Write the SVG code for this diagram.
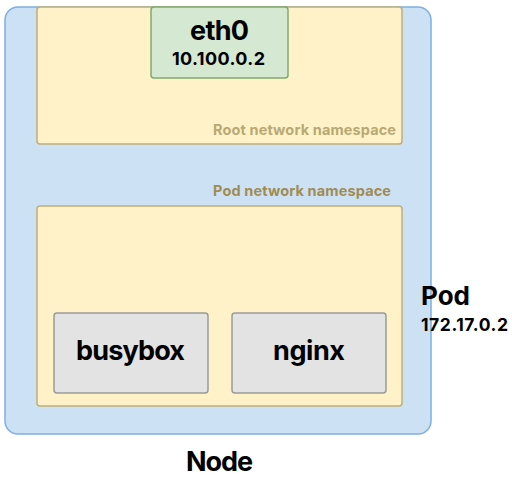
<svg xmlns="http://www.w3.org/2000/svg" width="512" height="477" viewBox="0 0 512 477">
<style>
text{font-family:Inter,"Liberation Sans",sans-serif;font-weight:700;fill:#000}
.ns{fill:#fff2c8;stroke:#bfae7a;stroke-width:1.5}
.box{fill:#e3e3e3;stroke:#9a9a9a;stroke-width:1.5}
.big{font-size:27px;text-anchor:middle}
.lbl{font-size:14.5px}
</style>
<rect width="512" height="477" fill="#fff"/>
<g id="node">
<rect x="5" y="7" width="426" height="427" rx="13" fill="#cde1f5" stroke="#7eaee2" stroke-width="1.5"/>
<text class="big" x="219.5" y="471" textLength="67">Node</text>
</g>
<g id="root-ns">
<rect class="ns" x="37" y="7" width="365" height="137" rx="3"/>
<text class="lbl" x="213" y="135" textLength="183" style="fill:#b8a972">Root network namespace</text>
</g>
<g id="eth0">
<rect x="151" y="7" width="137" height="71" rx="3" fill="#d5e8d2" stroke="#7faa6c" stroke-width="1.5"/>
<text class="big" x="219.5" y="40" textLength="59">eth0</text>
<text x="218.5" y="65" font-size="18" text-anchor="middle" textLength="93">10.100.0.2</text>
</g>
<g id="pod-ns">
<text class="lbl" x="213" y="196" textLength="178" style="fill:#a08c52">Pod network namespace</text>
<rect class="ns" x="37" y="206" width="365" height="200" rx="3"/>
</g>
<g id="busybox">
<rect class="box" x="54" y="313" width="154" height="80" rx="3"/>
<text class="big" x="130.5" y="360" textLength="109">busybox</text>
</g>
<g id="nginx">
<rect class="box" x="232" y="313" width="154" height="80" rx="3"/>
<text class="big" x="309" y="360" textLength="72">nginx</text>
</g>
<g id="pod">
<text x="421" y="305" font-size="26" textLength="49">Pod</text>
<text x="421" y="331" font-size="17.5" textLength="87">172.17.0.2</text>
</g>
<g id="connectors"/>
</svg>
